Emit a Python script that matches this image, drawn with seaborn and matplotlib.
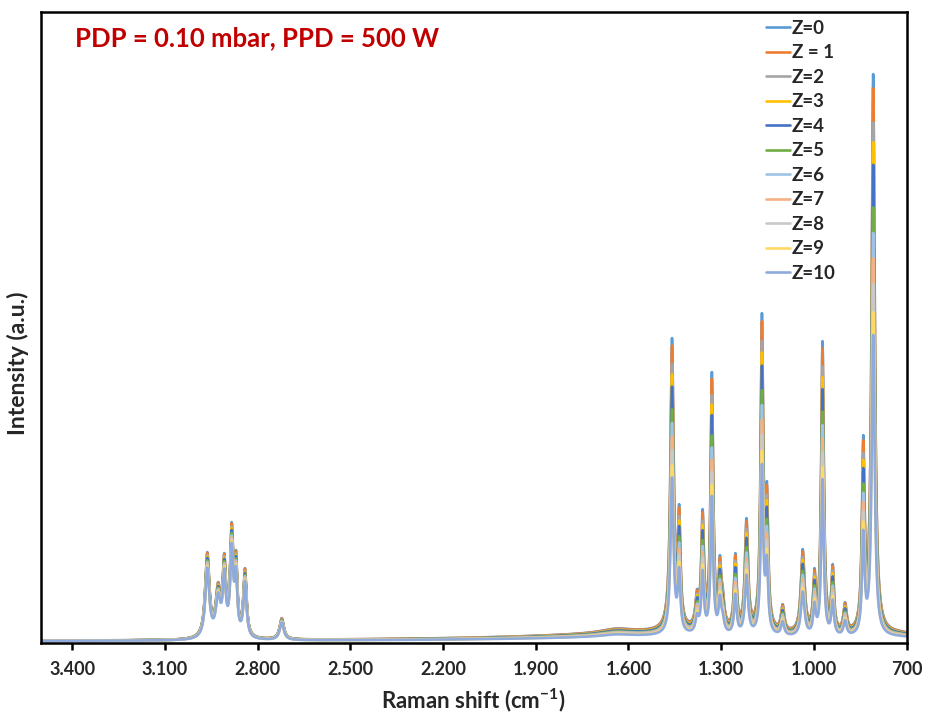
import numpy as np
import pandas as pd
import seaborn as sns
import matplotlib.pyplot as plt
from matplotlib.ticker import FixedLocator, FixedFormatter

# series
labels = ['Z=0', 'Z = 1', 'Z=2', 'Z=3', 'Z=4', 'Z=5', 'Z=6', 'Z=7', 'Z=8', 'Z=9', 'Z=10']
colors = ['#5B9BD5', '#ED7D31', '#A5A5A5', '#FFC000', '#4472C4', '#70AD47',
          '#9DC3E6', '#F4B183', '#C9C9C9', '#FFD966', '#8FAADC']
fp_scale = [1.00, 0.975, 0.915, 0.88, 0.84, 0.765, 0.72, 0.675, 0.63, 0.58, 0.54]
ch_scale = [1.00, 0.99, 0.965, 0.95, 0.935, 0.91, 0.89, 0.875, 0.86, 0.845, 0.83]

# C-H stretching band (peak position, apparent top for Z=0, half width)
ch_pos = [2963, 2928, 2908, 2884, 2870, 2841, 2722]
ch_top = [91, 61, 90, 121, 93, 75, 25]
ch_width = [8, 9, 6, 6, 5, 6, 8]

# fingerprint region
fp_pos = [1459, 1436, 1378, 1360, 1330, 1304, 1295, 1254, 1218, 1168, 1152,
          1101, 1036, 998, 972, 939, 899, 840, 808]
fp_top = [305, 139, 54, 134, 271, 88, 56, 90, 125, 330, 162,
          39, 94, 75, 302, 79, 41, 208, 569]
fp_width = [6, 5, 6, 5, 5, 5, 6, 5, 6, 5, 5,
            6, 7, 5, 5, 5, 6, 5, 6]

# broad background
bg_pos = [1450, 1640, 720]
bg_height = [9, 4, 4]
bg_width = [500, 60, 80]
floor = 2

tick_pos = [3400, 3100, 2800, 2500, 2200, 1900, 1600, 1300, 1000, 700]
tick_labels = ['3.400', '3.100', '2.800', '2.500', '2.200', '1.900', '1.600', '1.300', '1.000', '700']


def lorentz(x, x0, h, w):
    return h * w ** 2 / ((x - x0) ** 2 + w ** 2)


def band(x, pos, height, width):
    return sum(lorentz(x, p, h, w) for p, h, w in zip(pos, height, width))


wn = np.arange(3500, 699, -1.0)
background = band(wn, bg_pos, bg_height, bg_width)

# peak heights such that the summed curve reaches the read tops
all_pos = np.array(ch_pos + fp_pos, dtype=float)
all_top = np.array(ch_top + fp_top, dtype=float)
all_w = np.array(ch_width + fp_width, dtype=float)
A = all_w[None, :] ** 2 / ((all_pos[:, None] - all_pos[None, :]) ** 2 + all_w[None, :] ** 2)
rhs = all_top - floor - band(all_pos, bg_pos, bg_height, bg_width)
heights = np.clip(np.linalg.solve(A, rhs), 0, None)
n_ch = len(ch_pos)
ch_part = band(wn, ch_pos, heights[:n_ch], ch_width)
fp_part = band(wn, fp_pos, heights[n_ch:], fp_width)

frames = []
for lab, s_fp, s_ch in zip(labels, fp_scale, ch_scale):
    y = floor + s_ch * ch_part + s_fp * (fp_part + background)
    frames.append(pd.DataFrame({'wn': wn, 'intensity': y, 'series': lab}))
df = pd.concat(frames, ignore_index=True)

sns.set_theme(style='white')
plt.rcParams['font.family'] = ['Lato', 'DejaVu Sans']
plt.rcParams['font.weight'] = 'bold'
plt.rcParams['mathtext.fontset'] = 'custom'
plt.rcParams['mathtext.rm'] = 'Lato:bold'
plt.rcParams['mathtext.bf'] = 'Lato:bold'

fig = plt.figure(figsize=(9.26, 7.13), dpi=100)
ax = fig.add_axes([0.044, 0.098, 0.935, 0.885])

sns.lineplot(data=df, x='wn', y='intensity', hue='series', hue_order=labels,
             palette=colors, estimator=None, sort=False, lw=1.9, ax=ax)

ax.set_xlim(3502, 700)
ax.set_ylim(0, 631)
ax.xaxis.set_major_locator(FixedLocator(tick_pos))
ax.xaxis.set_major_formatter(FixedFormatter(tick_labels))
ax.set_yticks([])
ax.tick_params(axis='x', direction='out', length=5, width=1.8, color='black',
               labelsize=13, pad=8, bottom=True)
for sp in ax.spines.values():
    sp.set_color('black')
    sp.set_linewidth(1.8)

ax.set_xlabel('Raman shift (cm$^{\\mathbf{-1}}$)', fontsize=16, fontweight='bold', labelpad=6)
ax.set_ylabel('Intensity (a.u.)', fontsize=16.5, fontweight='bold', labelpad=6)
ax.yaxis.set_label_coords(-0.013, 0.444)

ax.text(0.04, 0.959, 'PDP = 0.10 mbar, PPD = 500 W', transform=ax.transAxes,
        fontsize=18.5, fontweight='bold', color='#C00000', va='center', ha='left')

handles, labs = ax.get_legend_handles_labels()
ax.legend(handles, labs, loc='upper left', bbox_to_anchor=(0.8375, 0.988),
          frameon=False, fontsize=13.5, handlelength=1.3, handletextpad=0.1,
          labelspacing=0.4, borderaxespad=0, borderpad=0)

fig.savefig('out.png', dpi=100)
